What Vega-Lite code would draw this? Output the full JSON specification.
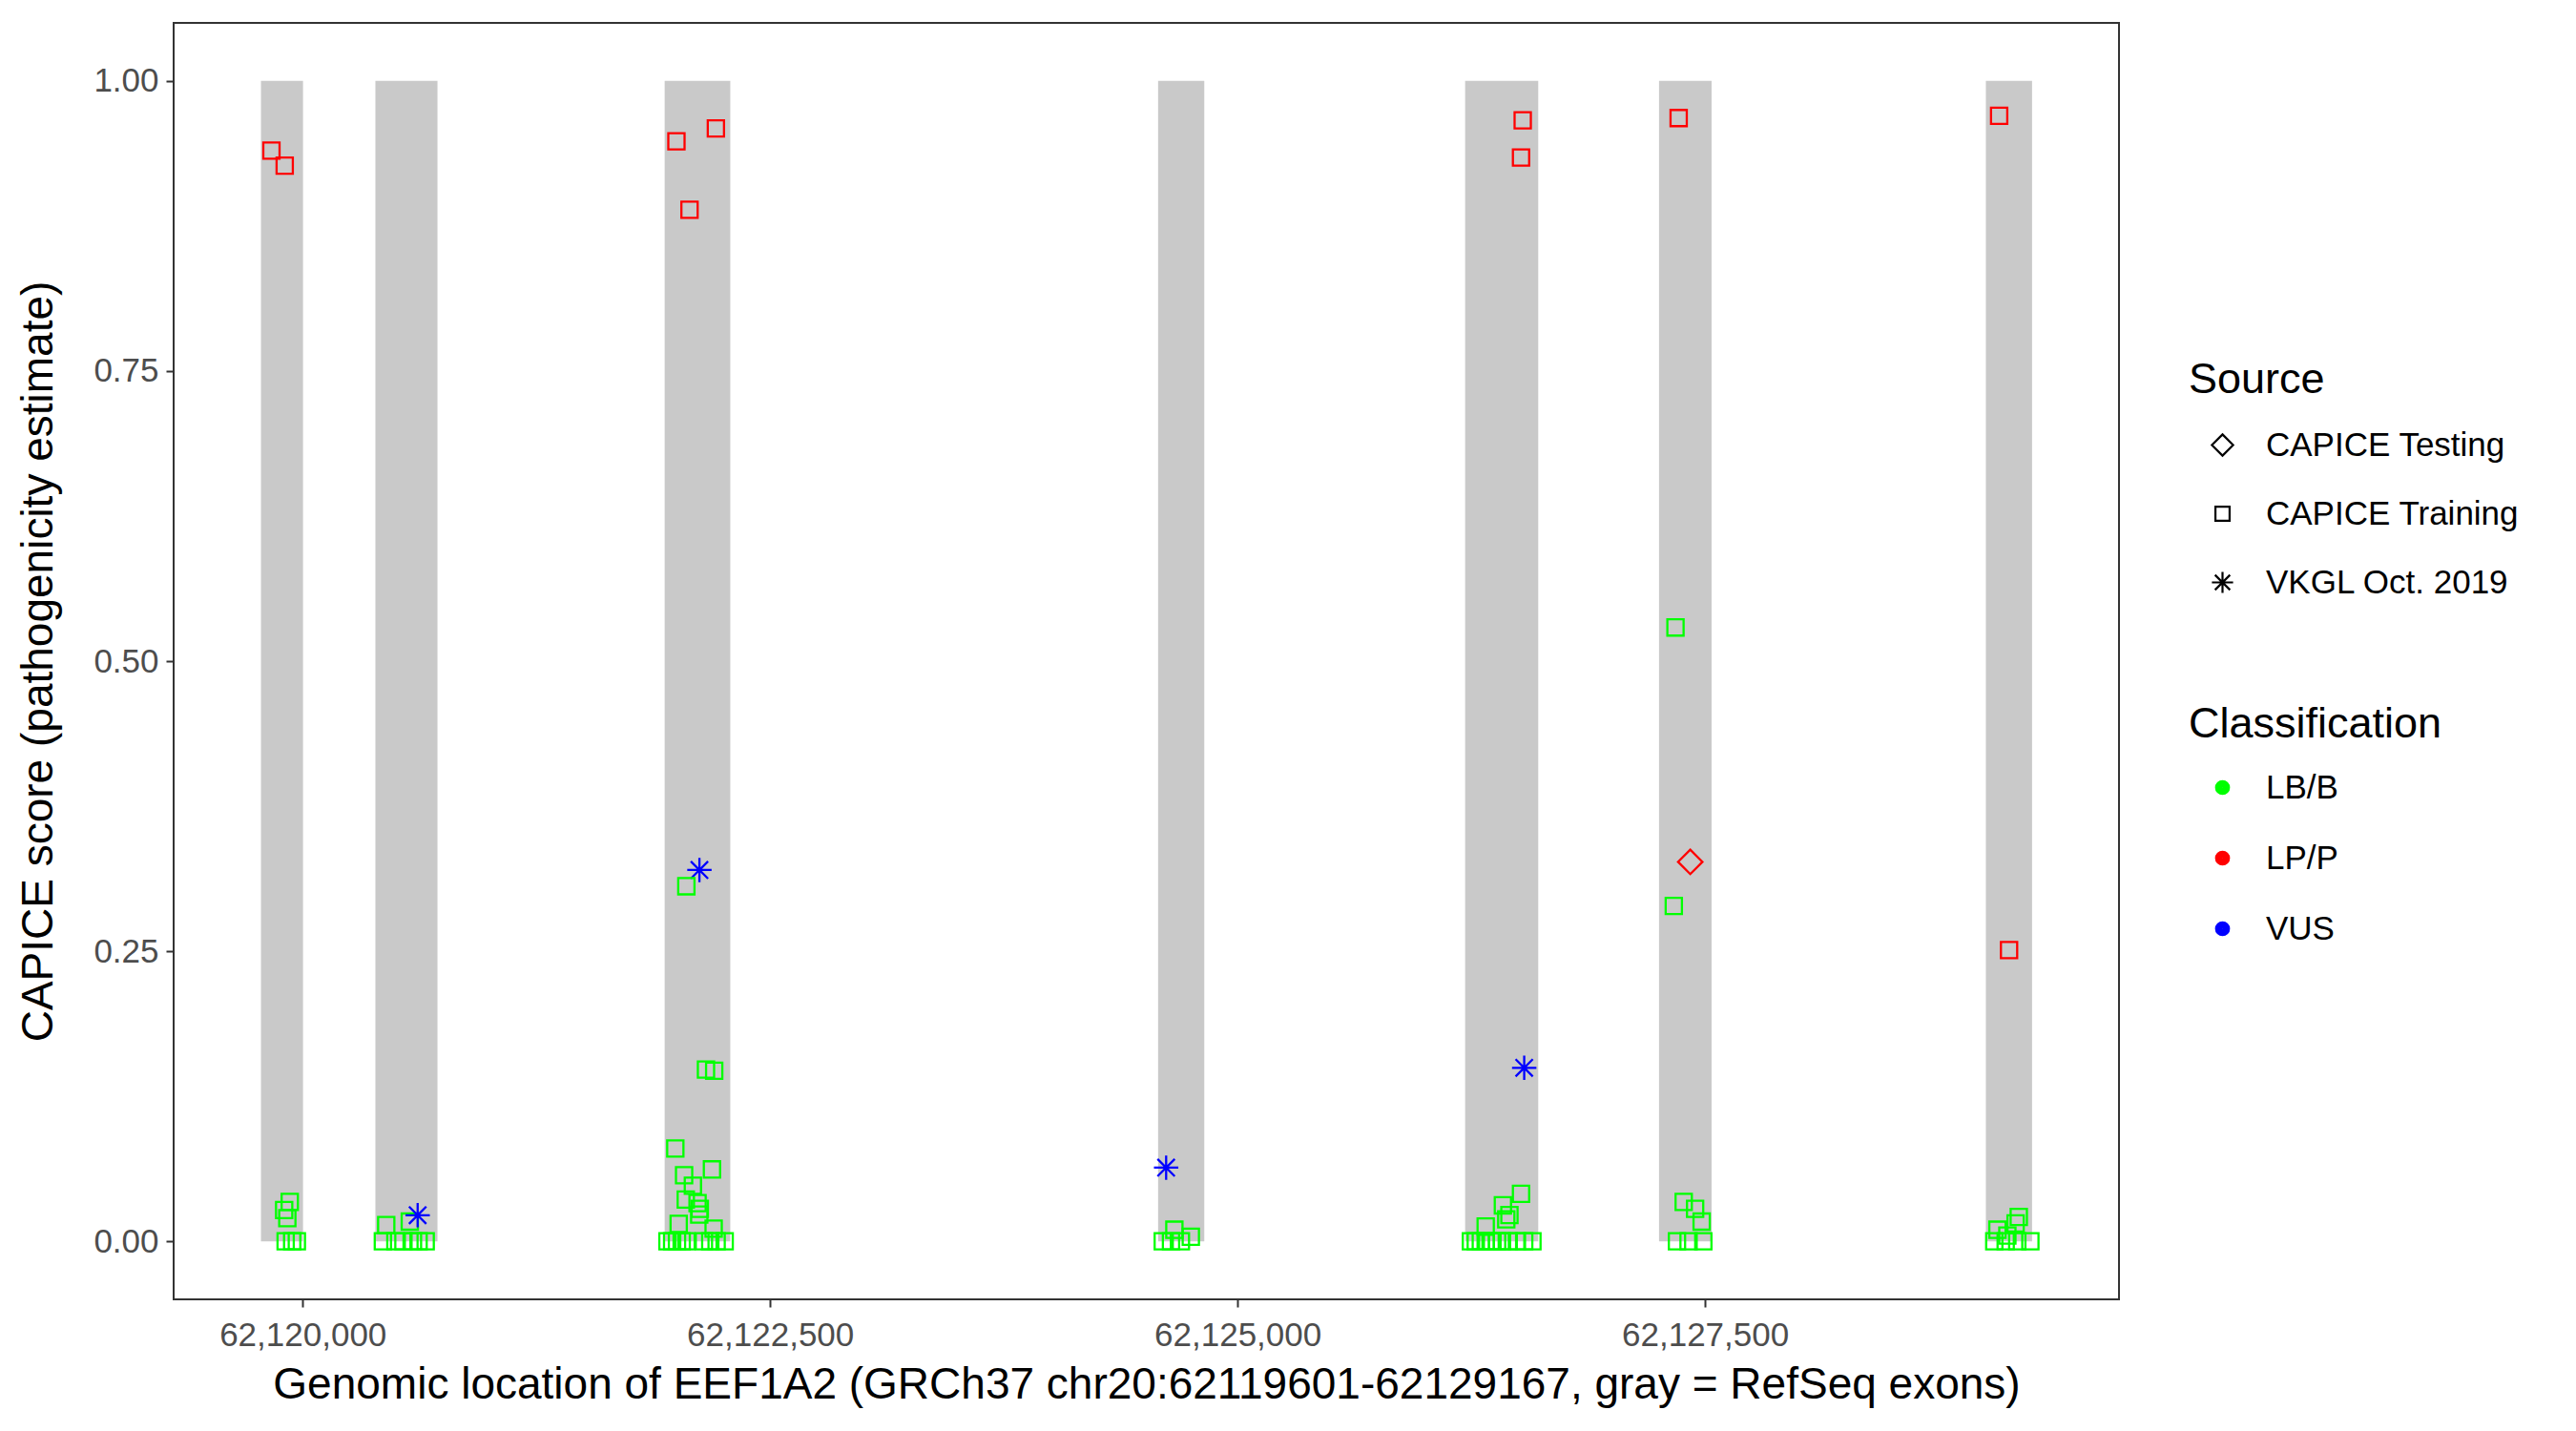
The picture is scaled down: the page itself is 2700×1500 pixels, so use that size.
{
  "$schema": "https://vega.github.io/schema/vega-lite/v6.json",
  "width": 2039,
  "height": 1338,
  "autosize": "none",
  "padding": {"left": 182, "top": 24, "right": 479, "bottom": 138},
  "background": "white",
  "config": {
    "font": "Liberation Sans",
    "view": {"stroke": "#333333", "strokeWidth": 2},
    "axis": {
      "grid": false,
      "domain": false,
      "tickColor": "#333333",
      "tickWidth": 2,
      "tickSize": 8,
      "labelFontSize": 35,
      "labelColor": "#4D4D4D",
      "labelLimit": 1000,
      "titleFontSize": 46,
      "titleFontWeight": "normal",
      "titleColor": "black"
    },
    "legend": {
      "titleFontSize": 45,
      "titleFontWeight": "normal",
      "titleColor": "black",
      "titleLimit": 1000,
      "labelFontSize": 35,
      "labelColor": "black",
      "labelLimit": 1000
    }
  },
  "datasets": {
    "exons": [
      {"start": 62119777, "end": 62120002},
      {"start": 62120389, "end": 62120721},
      {"start": 62121936, "end": 62122287},
      {"start": 62124575, "end": 62124822},
      {"start": 62126217, "end": 62126608},
      {"start": 62127254, "end": 62127535},
      {"start": 62129002, "end": 62129249}
    ],
    "variants": [
      {"pos": 62119833, "score": 0.94, "source": "CAPICE Training", "classification": "LP/P"},
      {"pos": 62119904, "score": 0.927, "source": "CAPICE Training", "classification": "LP/P"},
      {"pos": 62119931, "score": 0.034, "source": "CAPICE Training", "classification": "LB/B"},
      {"pos": 62119901, "score": 0.027, "source": "CAPICE Training", "classification": "LB/B"},
      {"pos": 62119918, "score": 0.02, "source": "CAPICE Training", "classification": "LB/B"},
      {"pos": 62119909, "score": 0, "source": "CAPICE Training", "classification": "LB/B"},
      {"pos": 62119944, "score": 0, "source": "CAPICE Training", "classification": "LB/B"},
      {"pos": 62119969, "score": 0, "source": "CAPICE Training", "classification": "LB/B"},

      {"pos": 62120447, "score": 0.014, "source": "CAPICE Training", "classification": "LB/B"},
      {"pos": 62120573, "score": 0.017, "source": "CAPICE Training", "classification": "LB/B"},
      {"pos": 62120429, "score": 0, "source": "CAPICE Training", "classification": "LB/B"},
      {"pos": 62120496, "score": 0, "source": "CAPICE Training", "classification": "LB/B"},
      {"pos": 62120539, "score": 0, "source": "CAPICE Training", "classification": "LB/B"},
      {"pos": 62120590, "score": 0, "source": "CAPICE Training", "classification": "LB/B"},
      {"pos": 62120620, "score": 0, "source": "CAPICE Training", "classification": "LB/B"},
      {"pos": 62120658, "score": 0, "source": "CAPICE Training", "classification": "LB/B"},
      {"pos": 62120615, "score": 0.0225, "source": "VKGL Oct. 2019", "classification": "VUS"},

      {"pos": 62121999, "score": 0.948, "source": "CAPICE Training", "classification": "LP/P"},
      {"pos": 62122069, "score": 0.889, "source": "CAPICE Training", "classification": "LP/P"},
      {"pos": 62122210, "score": 0.959, "source": "CAPICE Training", "classification": "LP/P"},
      {"pos": 62122122, "score": 0.32, "source": "VKGL Oct. 2019", "classification": "VUS"},
      {"pos": 62122052, "score": 0.306, "source": "CAPICE Training", "classification": "LB/B"},
      {"pos": 62122157, "score": 0.148, "source": "CAPICE Training", "classification": "LB/B"},
      {"pos": 62122201, "score": 0.147, "source": "CAPICE Training", "classification": "LB/B"},
      {"pos": 62121993, "score": 0.08, "source": "CAPICE Training", "classification": "LB/B"},
      {"pos": 62122189, "score": 0.062, "source": "CAPICE Training", "classification": "LB/B"},
      {"pos": 62122040, "score": 0.057, "source": "CAPICE Training", "classification": "LB/B"},
      {"pos": 62122087, "score": 0.048, "source": "CAPICE Training", "classification": "LB/B"},
      {"pos": 62122049, "score": 0.036, "source": "CAPICE Training", "classification": "LB/B"},
      {"pos": 62122112, "score": 0.033, "source": "CAPICE Training", "classification": "LB/B"},
      {"pos": 62122124, "score": 0.028, "source": "CAPICE Training", "classification": "LB/B"},
      {"pos": 62122121, "score": 0.023, "source": "CAPICE Training", "classification": "LB/B"},
      {"pos": 62122011, "score": 0.015, "source": "CAPICE Training", "classification": "LB/B"},
      {"pos": 62122198, "score": 0.011, "source": "CAPICE Training", "classification": "LB/B"},
      {"pos": 62121951, "score": 0, "source": "CAPICE Training", "classification": "LB/B"},
      {"pos": 62121976, "score": 0, "source": "CAPICE Training", "classification": "LB/B"},
      {"pos": 62122002, "score": 0, "source": "CAPICE Training", "classification": "LB/B"},
      {"pos": 62122027, "score": 0, "source": "CAPICE Training", "classification": "LB/B"},
      {"pos": 62122053, "score": 0, "source": "CAPICE Training", "classification": "LB/B"},
      {"pos": 62122146, "score": 0, "source": "CAPICE Training", "classification": "LB/B"},
      {"pos": 62122180, "score": 0, "source": "CAPICE Training", "classification": "LB/B"},
      {"pos": 62122214, "score": 0, "source": "CAPICE Training", "classification": "LB/B"},
      {"pos": 62122257, "score": 0, "source": "CAPICE Training", "classification": "LB/B"},

      {"pos": 62124618, "score": 0.0635, "source": "VKGL Oct. 2019", "classification": "VUS"},
      {"pos": 62124662, "score": 0.01, "source": "CAPICE Training", "classification": "LB/B"},
      {"pos": 62124750, "score": 0.004, "source": "CAPICE Training", "classification": "LB/B"},
      {"pos": 62124600, "score": 0, "source": "CAPICE Training", "classification": "LB/B"},
      {"pos": 62124644, "score": 0, "source": "CAPICE Training", "classification": "LB/B"},
      {"pos": 62124697, "score": 0, "source": "CAPICE Training", "classification": "LB/B"},

      {"pos": 62126525, "score": 0.966, "source": "CAPICE Training", "classification": "LP/P"},
      {"pos": 62126516, "score": 0.934, "source": "CAPICE Training", "classification": "LP/P"},
      {"pos": 62126533, "score": 0.1495, "source": "VKGL Oct. 2019", "classification": "VUS"},
      {"pos": 62126516, "score": 0.041, "source": "CAPICE Training", "classification": "LB/B"},
      {"pos": 62126419, "score": 0.031, "source": "CAPICE Training", "classification": "LB/B"},
      {"pos": 62126454, "score": 0.0226, "source": "CAPICE Training", "classification": "LB/B"},
      {"pos": 62126437, "score": 0.019, "source": "CAPICE Training", "classification": "LB/B"},
      {"pos": 62126327, "score": 0.0127, "source": "CAPICE Training", "classification": "LB/B"},
      {"pos": 62126248, "score": 0, "source": "CAPICE Training", "classification": "LB/B"},
      {"pos": 62126274, "score": 0, "source": "CAPICE Training", "classification": "LB/B"},
      {"pos": 62126301, "score": 0, "source": "CAPICE Training", "classification": "LB/B"},
      {"pos": 62126327, "score": 0, "source": "CAPICE Training", "classification": "LB/B"},
      {"pos": 62126353, "score": 0, "source": "CAPICE Training", "classification": "LB/B"},
      {"pos": 62126388, "score": 0, "source": "CAPICE Training", "classification": "LB/B"},
      {"pos": 62126414, "score": 0, "source": "CAPICE Training", "classification": "LB/B"},
      {"pos": 62126450, "score": 0, "source": "CAPICE Training", "classification": "LB/B"},
      {"pos": 62126494, "score": 0, "source": "CAPICE Training", "classification": "LB/B"},
      {"pos": 62126533, "score": 0, "source": "CAPICE Training", "classification": "LB/B"},
      {"pos": 62126577, "score": 0, "source": "CAPICE Training", "classification": "LB/B"},

      {"pos": 62127359, "score": 0.968, "source": "CAPICE Training", "classification": "LP/P"},
      {"pos": 62127342, "score": 0.529, "source": "CAPICE Training", "classification": "LB/B"},
      {"pos": 62127333, "score": 0.289, "source": "CAPICE Training", "classification": "LB/B"},
      {"pos": 62127421, "score": 0.327, "source": "CAPICE Testing", "classification": "LP/P"},
      {"pos": 62127386, "score": 0.034, "source": "CAPICE Training", "classification": "LB/B"},
      {"pos": 62127447, "score": 0.028, "source": "CAPICE Training", "classification": "LB/B"},
      {"pos": 62127482, "score": 0.017, "source": "CAPICE Training", "classification": "LB/B"},
      {"pos": 62127350, "score": 0, "source": "CAPICE Training", "classification": "LB/B"},
      {"pos": 62127412, "score": 0, "source": "CAPICE Training", "classification": "LB/B"},
      {"pos": 62127491, "score": 0, "source": "CAPICE Training", "classification": "LB/B"},

      {"pos": 62129073, "score": 0.97, "source": "CAPICE Training", "classification": "LP/P"},
      {"pos": 62129126, "score": 0.251, "source": "CAPICE Training", "classification": "LP/P"},
      {"pos": 62129064, "score": 0.01, "source": "CAPICE Training", "classification": "LB/B"},
      {"pos": 62129178, "score": 0.021, "source": "CAPICE Training", "classification": "LB/B"},
      {"pos": 62129161, "score": 0.0155, "source": "CAPICE Training", "classification": "LB/B"},
      {"pos": 62129117, "score": 0.005, "source": "CAPICE Training", "classification": "LB/B"},
      {"pos": 62129047, "score": 0, "source": "CAPICE Training", "classification": "LB/B"},
      {"pos": 62129108, "score": 0, "source": "CAPICE Training", "classification": "LB/B"},
      {"pos": 62129170, "score": 0, "source": "CAPICE Training", "classification": "LB/B"},
      {"pos": 62129240, "score": 0, "source": "CAPICE Training", "classification": "LB/B"}
    ]
  },
  "layer": [
    {
      "data": {"name": "exons"},
      "mark": {"type": "rect", "color": "#C9C9C9"},
      "encoding": {
        "x": {
          "field": "start", "type": "quantitative",
          "scale": {"domain": [62119310, 62129714], "nice": false, "zero": false},
          "axis": {
            "title": "Genomic location of EEF1A2 (GRCh37 chr20:62119601-62129167, gray = RefSeq exons)",
            "values": [62120000, 62122500, 62125000, 62127500],
            "format": ",d",
            "labelPadding": 12,
            "titlePadding": 12
          }
        },
        "x2": {"field": "end"},
        "y": {
          "datum": 0, "type": "quantitative",
          "scale": {"domain": [-0.05, 1.05], "nice": false, "zero": false},
          "axis": {
            "title": "CAPICE score (pathogenicity estimate)",
            "values": [0, 0.25, 0.5, 0.75, 1],
            "format": ".2f",
            "labelPadding": 8,
            "titlePadding": 33
          }
        },
        "y2": {"datum": 1}
      }
    },
    {
      "data": {"name": "variants"},
      "mark": {"type": "point", "filled": false, "strokeWidth": 2.3, "size": 290, "opacity": 1},
      "encoding": {
        "x": {
          "field": "pos", "type": "quantitative",
          "axis": {
            "title": "Genomic location of EEF1A2 (GRCh37 chr20:62119601-62129167, gray = RefSeq exons)",
            "values": [62120000, 62122500, 62125000, 62127500],
            "format": ",d",
            "labelPadding": 12,
            "titlePadding": 12
          }
        },
        "y": {
          "field": "score", "type": "quantitative",
          "axis": {
            "title": "CAPICE score (pathogenicity estimate)",
            "values": [0, 0.25, 0.5, 0.75, 1],
            "format": ".2f",
            "labelPadding": 8,
            "titlePadding": 33
          }
        },
        "shape": {
          "field": "source", "type": "nominal",
          "scale": {
            "domain": ["CAPICE Testing", "CAPICE Training", "VKGL Oct. 2019"],
            "range": ["M0,-1.5L1.5,0L0,1.5L-1.5,0Z", "square", "M-1.5,0L1.5,0M0,-1.5L0,1.5M-1.06,-1.06L1.06,1.06M-1.06,1.06L1.06,-1.06"]
          },
          "legend": {
            "title": "Source",
            "orient": "none",
            "legendX": 2112,
            "legendY": 352,
            "symbolStrokeColor": "black",
            "symbolFillColor": "transparent",
            "symbolSize": 220,
            "symbolStrokeWidth": 2.2,
            "symbolOffset": 18,
            "labelOffset": 28,
            "rowPadding": 36,
            "titlePadding": 28
          }
        },
        "color": {
          "field": "classification", "type": "nominal",
          "scale": {"domain": ["LB/B", "LP/P", "VUS"], "range": ["#00FF00", "#FF0000", "#0000FF"]},
          "legend": {
            "title": "Classification",
            "orient": "none",
            "legendX": 2112,
            "legendY": 713,
            "symbolType": "circle",
            "symbolSize": 60,
            "symbolStrokeWidth": 8,
            "symbolOffset": 18,
            "labelOffset": 28,
            "rowPadding": 33,
            "titlePadding": 26
          }
        }
      }
    }
  ]
}
